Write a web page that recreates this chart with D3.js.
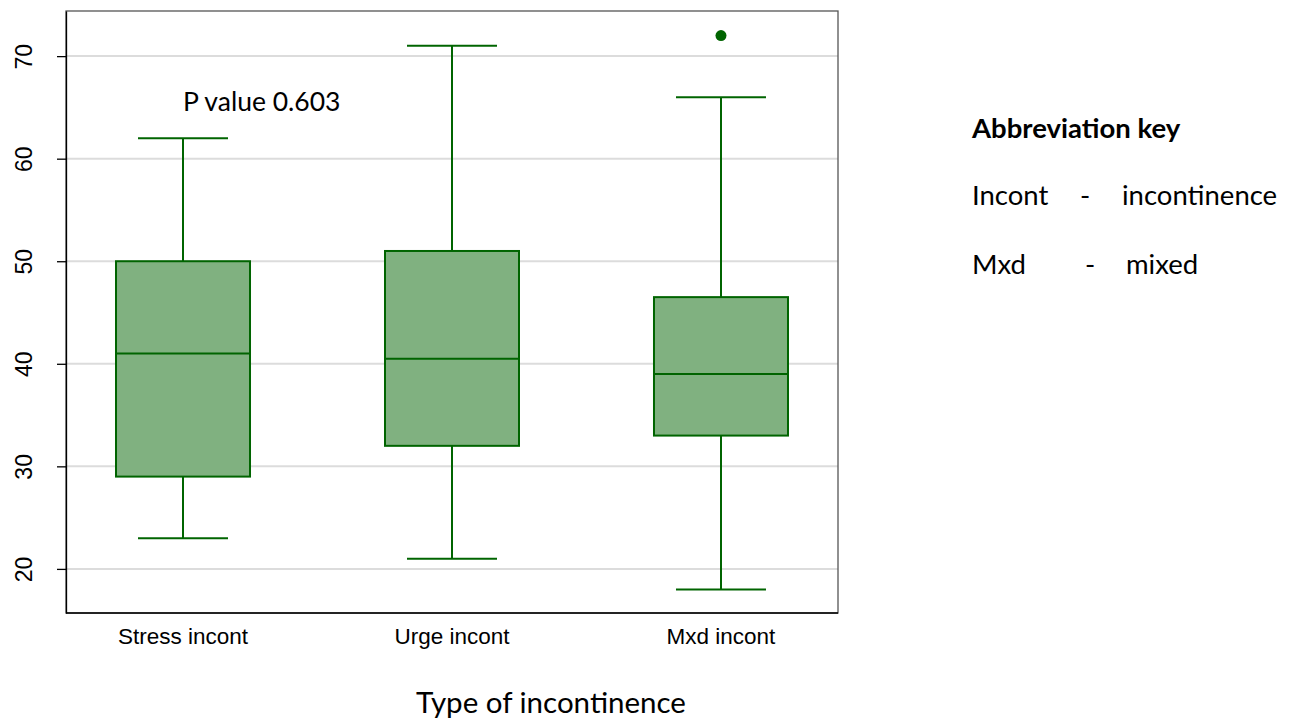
<!DOCTYPE html>
<html><head><meta charset="utf-8">
<script src="https://cdn.jsdelivr.net/npm/d3@7"></script>
<style>body{margin:0;background:#fff}svg{display:block}</style>
</head><body>
<svg id="c" width="1294" height="722"></svg>
<script>
const categories = ["Stress incont", "Urge incont", "Mxd incont"];
const whiskerLow = [23, 21, 18];
const q1 = [29, 32, 33];
const median = [41, 40.5, 39];
const q3 = [50, 51, 46.5];
const whiskerHigh = [62, 71, 66];
const outliers = [[], [], [72]];
const yTicks = [20, 30, 40, 50, 60, 70];
const annotation = "P value 0.603";
const xTitle = "Type of incontinence";
const keyTitle = "Abbreviation key";
const keyAbbr = ["Incont", "Mxd"];
const keyFull = ["incontinence", "mixed"];

const svg = d3.select("#c");
const L = 66, R = 838, T = 11, B = 613;
const y = d3.scaleLinear().domain([15.7, 74.4]).range([B, T]);
const x = d3.scalePoint().domain(categories).range([L, R]).padding(0.435);
const green = "#006400", fill = "#80b180";
const sans = "Liberation Sans, Arial, sans-serif";
const cal = "Lato, Open Sans, sans-serif";

// gridlines
svg.append("g").selectAll("line").data(yTicks).join("line")
  .attr("x1", L).attr("x2", R).attr("y1", d => y(d)).attr("y2", d => y(d))
  .attr("stroke", "#dcdcdc").attr("stroke-width", 2);

// frame
svg.append("rect").attr("x", L).attr("y", T).attr("width", R - L).attr("height", B - T)
  .attr("fill", "none").attr("stroke", "#555").attr("stroke-width", 1.3);

// y axis
const yAxis = svg.append("g").attr("transform", `translate(${L},0)`)
  .call(d3.axisLeft(y).tickValues(yTicks).tickSize(9).tickSizeOuter(0));
yAxis.select(".domain").attr("stroke", "#000").attr("stroke-width", 1.3);
yAxis.selectAll(".tick line").attr("stroke", "#000").attr("stroke-width", 1.3);
yAxis.selectAll(".tick text")
  .style("font-family", sans).style("font-size", "23px").attr("fill", "#000")
  .attr("x", 0).attr("y", 0).attr("dy", "0")
  .attr("text-anchor", "middle")
  .attr("transform", "translate(-34,0) rotate(-90)");

// bottom axis line
svg.append("line").attr("x1", L).attr("x2", R).attr("y1", B).attr("y2", B).attr("stroke", "#000").attr("stroke-width", 1.3);

// category labels
svg.append("g").selectAll("text").data(categories).join("text")
  .attr("x", d => x(d)).attr("y", 644).attr("text-anchor", "middle")
  .style("font-family", sans).style("font-size", "22.5px").text(d => d);

const boxW = 134, capW = 90;
const g = svg.append("g").selectAll("g").data(categories).join("g");
// whiskers
g.append("line").attr("x1", d => x(d)).attr("x2", d => x(d))
  .attr("y1", (d, i) => y(whiskerLow[i])).attr("y2", (d, i) => y(q1[i]))
  .attr("stroke", green).attr("stroke-width", 2);
g.append("line").attr("x1", d => x(d)).attr("x2", d => x(d))
  .attr("y1", (d, i) => y(q3[i])).attr("y2", (d, i) => y(whiskerHigh[i]))
  .attr("stroke", green).attr("stroke-width", 2);
g.append("line").attr("x1", d => x(d) - capW / 2).attr("x2", d => x(d) + capW / 2)
  .attr("y1", (d, i) => y(whiskerLow[i])).attr("y2", (d, i) => y(whiskerLow[i]))
  .attr("stroke", green).attr("stroke-width", 2);
g.append("line").attr("x1", d => x(d) - capW / 2).attr("x2", d => x(d) + capW / 2)
  .attr("y1", (d, i) => y(whiskerHigh[i])).attr("y2", (d, i) => y(whiskerHigh[i]))
  .attr("stroke", green).attr("stroke-width", 2);
// box
g.append("rect").attr("x", d => x(d) - boxW / 2).attr("width", boxW)
  .attr("y", (d, i) => y(q3[i])).attr("height", (d, i) => y(q1[i]) - y(q3[i]))
  .attr("fill", fill).attr("stroke", green).attr("stroke-width", 2);
g.append("line").attr("x1", d => x(d) - boxW / 2).attr("x2", d => x(d) + boxW / 2)
  .attr("y1", (d, i) => y(median[i])).attr("y2", (d, i) => y(median[i]))
  .attr("stroke", green).attr("stroke-width", 2);
// outliers
g.each(function(d, i){
  d3.select(this).selectAll("circle").data(outliers[i]).join("circle")
    .attr("cx", x(d)).attr("cy", v => y(v)).attr("r", 5.5).attr("fill", green);
});

// annotation
svg.append("text").attr("x", x(categories[0])).attr("y", 111)
  .style("font-family", cal).style("font-size", "26.5px").text(annotation);

// x title
svg.append("text").attr("x", 551).attr("y", 713).attr("text-anchor", "middle")
  .style("font-family", cal).style("font-size", "29.5px").text(xTitle);

// key
svg.append("text").attr("x", 972).attr("y", 138).style("font-family", cal)
  .style("font-weight", "bold").style("font-size", "27.5px").text(keyTitle);
keyAbbr.forEach((a, i) => {
  const yy = 205 + i * 69;
  svg.append("text").attr("x", 972).attr("y", yy).style("font-family", cal).style("font-size", "27.5px").text(a);
  svg.append("text").attr("x", i === 0 ? 1085 : 1090).attr("y", yy).attr("text-anchor", "middle").style("font-family", cal).style("font-size", "27.5px").text("-");
  svg.append("text").attr("x", i === 0 ? 1122 : 1126).attr("y", yy).style("font-family", cal).style("font-size", "27.5px").text(keyFull[i]);
});
</script>
</body></html>
